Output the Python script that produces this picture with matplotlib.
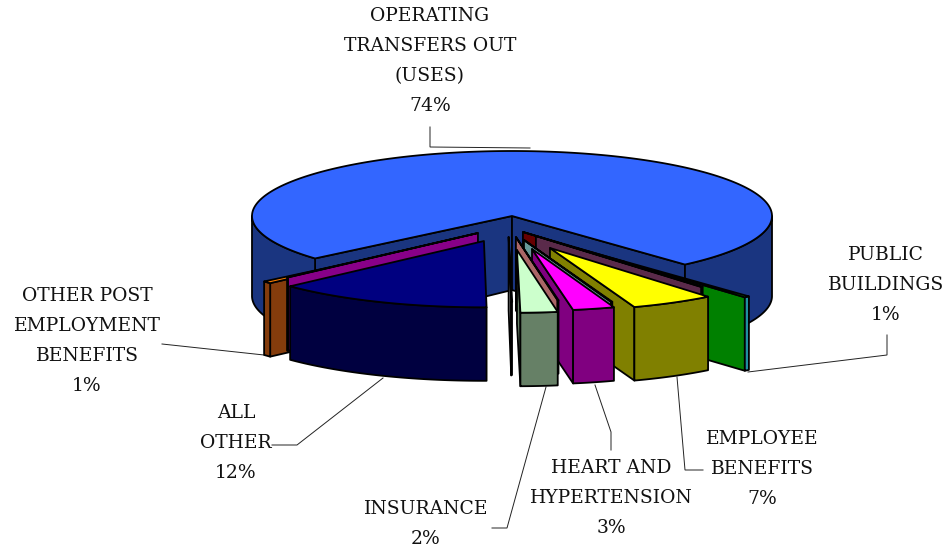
import numpy as np
import matplotlib
matplotlib.use("Agg")
import matplotlib.pyplot as plt
from matplotlib.patches import Polygon

# ---- data ----
slice_names = ["PUBLIC BUILDINGS", "SLIVER A", "SLIVER B", "EMPLOYEE BENEFITS", "SLIVER C",
               "HEART AND HYPERTENSION", "SLIVER D", "INSURANCE", "SLIVER E", "ALL OTHER",
               "SLIVER F", "OTHER POST EMPLOYMENT BENEFITS"]
slice_values = [1, 0.3, 0.1, 7, 0.08, 3, 0.06, 2, 0.06, 12, 0.08, 1]
main_name = "OPERATING TRANSFERS OUT (USES)"
main_value = 74

label_texts = ["OPERATING\nTRANSFERS OUT\n(USES)\n74%", "PUBLIC\nBUILDINGS\n1%",
               "EMPLOYEE\nBENEFITS\n7%", "HEART AND\nHYPERTENSION\n3%", "INSURANCE\n2%",
               "ALL\nOTHER\n12%", "OTHER POST\nEMPLOYMENT\nBENEFITS\n1%"]

# ---- styles / projection ----
label_pos = [(430, 61), (886, 285), (762, 469), (611, 498), (426, 524), (236, 443), (87, 341)]
leaders = [[(430, 127), (430, 147), (530, 148)], [(887, 335), (887, 355), (748, 372)],
           [(677, 377), (685, 470), (703, 470)], [(595, 385), (611, 432), (611, 450)],
           [(546, 387), (507, 528), (492, 528)], [(383, 378), (297, 445), (272, 445)],
           [(162, 344), (264, 355)]]
CX, CY, RX, RY = 512, 216, 260, 65
START = 48.3
foreshorten = [0.333, 1, 1, 0.77, 1, 0.907, 1, 1.19, 1, 1.10, 1, 0.556]
explode_x = [.246, .042, .092, .146, .046, .077, .015, .019, -.013, -.108, -.131, -.196]
explode_y = [.49, .246, .308, .492, .369, .508, .323, .523, .323, .385, .262, .354]
radius = [1, .6, 1.01, .965, 1.01, .95, .985, .965, 1, 1.02, 1, 1]
tops = ["#00FF00", "#AA0000", "#CC66AA", "#FFFF00", "#99CCCC", "#FF00FF", "#CC9999", "#CCFFCC", "#EEEEEE",
        "#000080", "#FF00FF", "#FF8000"]
walls = ["#008000", "#660000", "#5A2A4A", "#808000", "#669999", "#800080", "#AA6666", "#668066", "#999999",
         "#000040", "#880088", "#843C0C"]
rims = ["#1F8FA0", "#660000", "#5A2A4A", "#808000", "#669999", "#800080", "#AA6666", "#668066", "#999999",
        "#000040", "#880088", "#843C0C"]
DEPTH = 73.5
LW = 1.3

fig = plt.figure(figsize=(9.48, 5.48), dpi=100, facecolor="white")
ax = fig.add_axes([0, 0, 1, 1])
ax.set_xlim(0, 948)
ax.set_ylim(548, 0)
ax.axis("off")


def rim_xy(ax0, ay0, r, deg):
    t = np.radians(deg)
    return ax0 + r * RX * np.cos(t), ay0 + r * RY * np.sin(t)


def poly(pts, fc, z):
    ax.add_patch(Polygon(pts, closed=True, facecolor=fc, edgecolor="black", linewidth=LW,
                         joinstyle="round", zorder=z))


def wedge(apex, r, t0, t1, top, wall, rim, d_in, d_out, z):
    ax0, ay0 = apex
    if np.cos(np.radians(t0)) < 0:
        xr, yr = rim_xy(ax0, ay0, r, t0)
        poly([(ax0, ay0), (xr, yr), (xr, yr + d_out), (ax0, ay0 + d_in)], wall, z)
    if np.cos(np.radians(t1)) > 0:
        xr, yr = rim_xy(ax0, ay0, r, t1)
        poly([(ax0, ay0), (xr, yr), (xr, yr + d_out), (ax0, ay0 + d_in)], wall, z)
    # front-facing parts of the outer wall
    for lo, hi in ((t0, t1), (t0 - 360, t1 - 360)):
        a, b = max(lo, 0), min(hi, 180)
        if b > a:
            th = np.linspace(a, b, 120)
            x, y = rim_xy(ax0, ay0, r, th)
            pts = list(zip(x, y)) + list(zip(x[::-1], y[::-1] + d_out))
            poly(pts, rim, z + 0.1)
    th = np.linspace(t0, t1, 300)
    x, y = rim_xy(ax0, ay0, r, th)
    poly([(ax0, ay0)] + list(zip(x, y)), top, z + 0.2)


# angular extents from the values
spans = [v * 3.6 * f for v, f in zip(slice_values, foreshorten)]
edges = START + np.concatenate([[0], np.cumsum(spans)])
main_lo, main_hi = edges[-1], START + 360

# the large slice
wedge((CX, CY), 1.0, main_lo, main_hi, "#3366FF", "#1A3580", "#1A3580", 74, 80, 1)

# painter's order: right-hand slices back to front, then left-hand back to front
n = len(slice_values)
right = [i for i in range(n) if (edges[i] + edges[i + 1]) / 2 < 89.3]
left = [i for i in range(n) if i not in right][::-1]
for z, i in enumerate(right + left):
    apex = (CX + explode_x[i] * RX, CY + explode_y[i] * RY)
    wedge(apex, radius[i], edges[i], edges[i + 1], tops[i], walls[i], rims[i], DEPTH, DEPTH, 2 + z)

for pts in leaders:
    xs, ys = zip(*pts)
    ax.plot(xs, ys, color="#222222", lw=0.7, zorder=0.5, solid_joinstyle="miter")

for txt, (x, y) in zip(label_texts, label_pos):
    ax.text(x, y, txt, ha="center", va="center", ma="center", family="DejaVu Serif", fontsize=13.5,
            linespacing=1.87, color="#111111", zorder=50)

fig.savefig("out.png", dpi=100, facecolor="white")
